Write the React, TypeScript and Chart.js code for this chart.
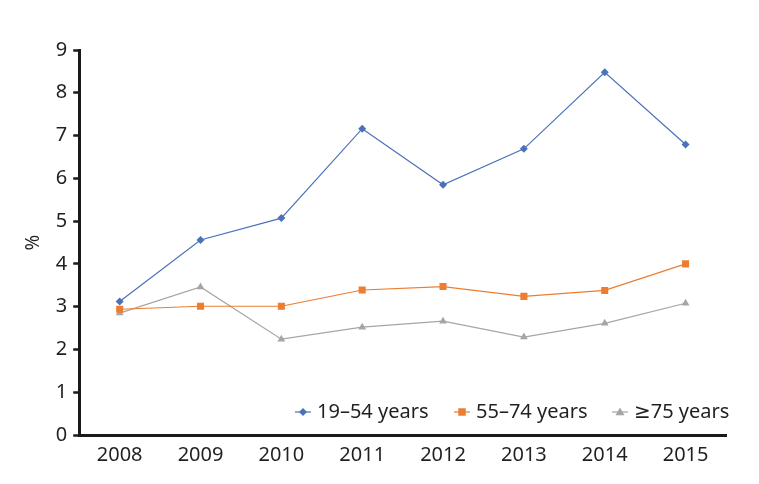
import React, { useEffect, useRef } from "react";
import { Chart, registerables } from "chart.js";

Chart.register(...registerables);

const years = ["2008", "2009", "2010", "2011", "2012", "2013", "2014", "2015"];
const age19to54 = [3.12, 4.56, 5.07, 7.16, 5.85, 6.69, 8.48, 6.79];
const age55to74 = [2.94, 3.01, 3.01, 3.39, 3.47, 3.24, 3.38, 4.0];
const age75plus = [2.85, 3.46, 2.24, 2.52, 2.66, 2.29, 2.61, 3.08];
const seriesLabels = ["19–54 years", "55–74 years", "≥75 years"];
const yTicks = [0, 1, 2, 3, 4, 5, 6, 7, 8, 9];

const FONT = "'Noto Sans', 'DejaVu Sans', sans-serif";
const TEXT = "#231f20";

const legendPlugin = {
  id: "insideLegend",
  afterDraw(chart: any) {
    const ctx = chart.ctx;
    const area = chart.chartArea;
    const y = area.bottom - 23;
    const positions = [303, 462, 620];
    ctx.save();
    ctx.font = `20px ${FONT}`;
    ctx.textBaseline = "middle";
    ctx.textAlign = "left";
    chart.data.datasets.forEach((ds: any, i: number) => {
      const cx = positions[i];
      ctx.strokeStyle = ds.borderColor;
      ctx.lineWidth = 1.2;
      ctx.beginPath();
      ctx.moveTo(cx - 8, y);
      ctx.lineTo(cx + 8, y);
      ctx.stroke();
      ctx.fillStyle = ds.pointBackgroundColor;
      const r = ds.pointRadius;
      ctx.beginPath();
      if (ds.pointStyle === "rectRot") {
        ctx.moveTo(cx, y - r);
        ctx.lineTo(cx + r, y);
        ctx.lineTo(cx, y + r);
        ctx.lineTo(cx - r, y);
      } else if (ds.pointStyle === "rect") {
        ctx.rect(cx - r * 0.75, y - r * 0.75, r * 1.5, r * 1.5);
      } else {
        ctx.moveTo(cx, y - r);
        ctx.lineTo(cx + r, y + r * 0.7);
        ctx.lineTo(cx - r, y + r * 0.7);
      }
      ctx.closePath();
      ctx.fill();
      ctx.fillStyle = TEXT;
      ctx.fillText(ds.label, cx + 14, y);
    });
    ctx.restore();
  },
};

export default function App() {
  const ref = useRef<HTMLCanvasElement>(null);
  useEffect(() => {
    document.body.style.margin = "0";
    const chart = new Chart(ref.current!, {
      type: "line",
      data: {
        labels: years,
        datasets: [
          {
            label: seriesLabels[0],
            data: age19to54,
            borderColor: "#4a72b8",
            backgroundColor: "#4a72b8",
            pointBackgroundColor: "#4a72b8",
            pointBorderWidth: 0,
            pointStyle: "rectRot",
            pointRadius: 4,
            borderWidth: 1.2,
            tension: 0,
          },
          {
            label: seriesLabels[1],
            data: age55to74,
            borderColor: "#ed7d31",
            backgroundColor: "#ed7d31",
            pointBackgroundColor: "#ed7d31",
            pointBorderWidth: 0,
            pointStyle: "rect",
            pointRadius: 5,
            borderWidth: 1.2,
            tension: 0,
          },
          {
            label: seriesLabels[2],
            data: age75plus,
            borderColor: "#a5a5a5",
            backgroundColor: "#a5a5a5",
            pointBackgroundColor: "#a5a5a5",
            pointBorderWidth: 0,
            pointStyle: "triangle",
            pointRadius: 4.5,
            borderWidth: 1.2,
            tension: 0,
          },
        ],
      },
      options: {
        animation: false,
        responsive: false,
        layout: { padding: { left: 22, right: 33, top: 50, bottom: 9 } },
        plugins: {
          legend: { display: false },
          tooltip: { enabled: false },
        },
        scales: {
          x: {
            offset: true,
            grid: { display: false, drawTicks: false },
            border: { color: "#1a1a1a", width: 3 },
            ticks: {
              color: TEXT,
              font: { family: FONT, size: 20 },
              padding: 8,
            },
          },
          y: {
            min: 0,
            max: 9,
            afterBuildTicks: (axis: any) => {
              axis.ticks = yTicks.map((v) => ({ value: v }));
            },
            grid: {
              drawOnChartArea: false,
              drawTicks: true,
              tickLength: 6,
              tickWidth: 2.5,
              color: "#1a1a1a",
            },
            border: { color: "#1a1a1a", width: 3 },
            ticks: {
              color: TEXT,
              font: { family: FONT, size: 20 },
              padding: 6,
            },
            title: {
              display: true,
              text: "%",
              color: TEXT,
              font: { family: FONT, size: 19 },
              padding: { top: 0, bottom: 5 },
            },
          },
        },
      },
      plugins: [legendPlugin],
    });
    return () => chart.destroy();
  }, []);
  return (
    <div style={{ width: 759, height: 484 }}>
      <canvas ref={ref} width={759} height={484} style={{ width: 759, height: 484, display: "block" }} />
    </div>
  );
}
